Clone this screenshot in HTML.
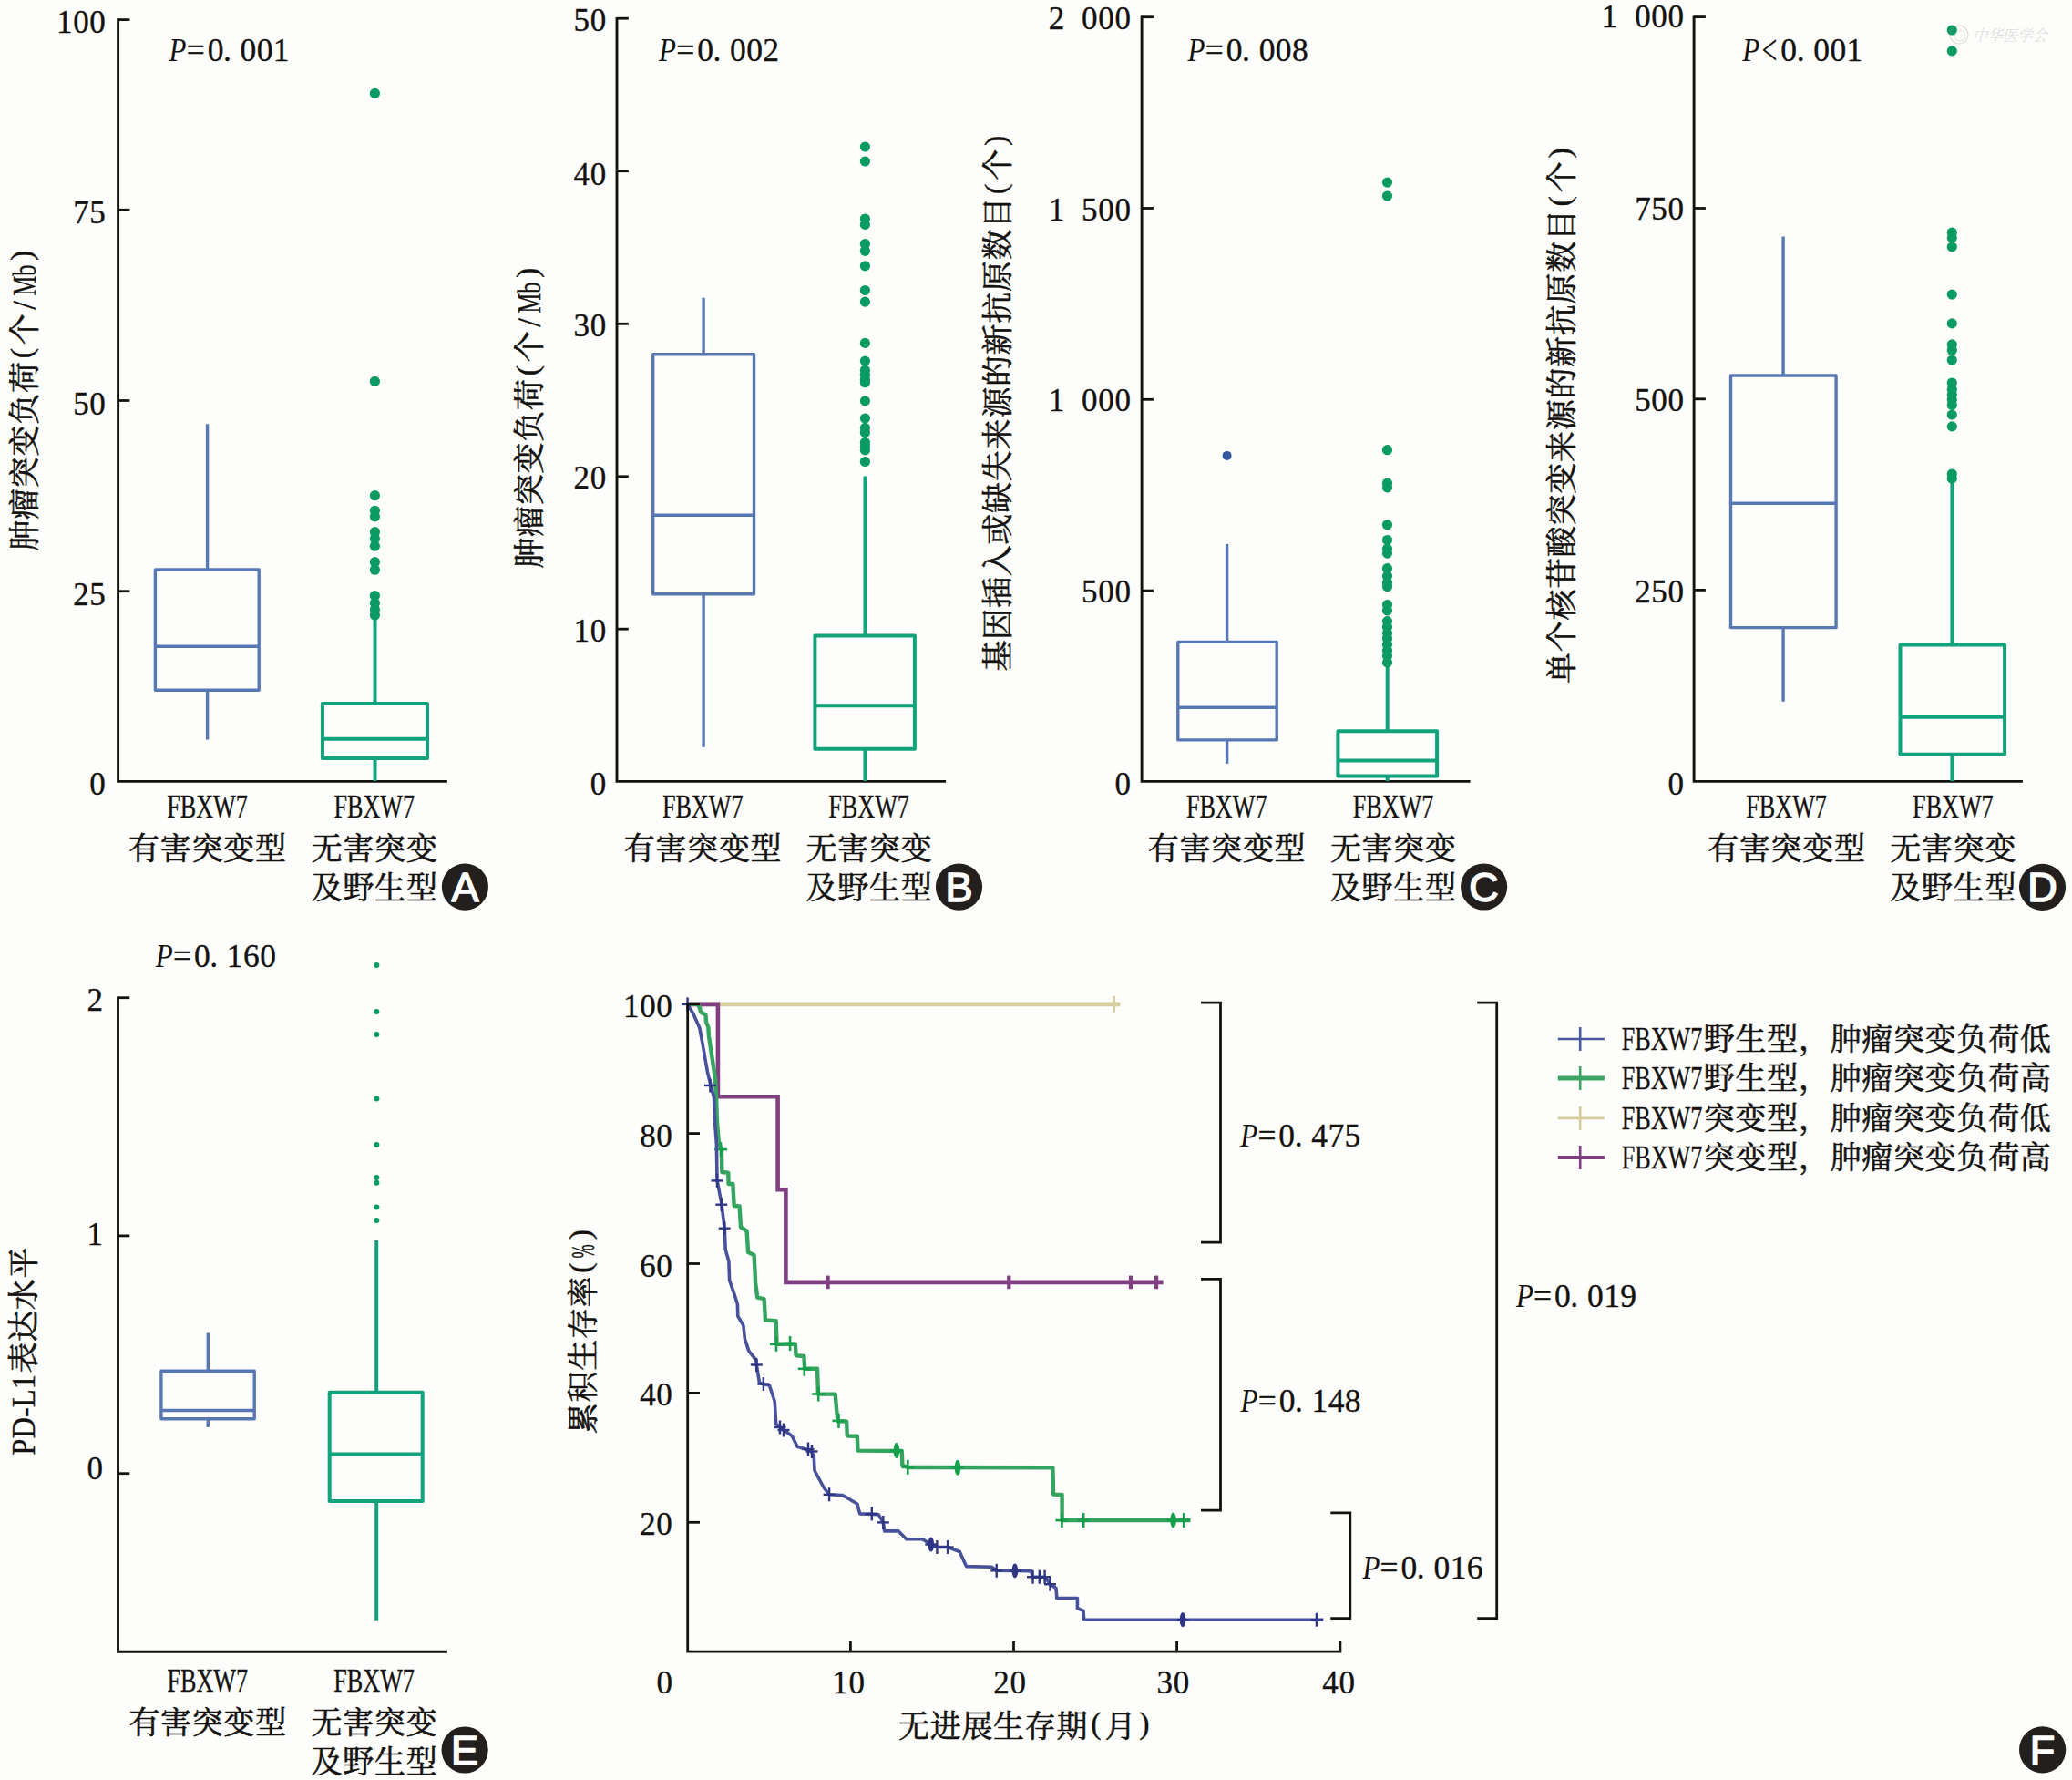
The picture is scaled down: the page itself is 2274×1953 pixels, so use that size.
<!DOCTYPE html>
<html lang="zh"><head><meta charset="utf-8"><title>FBXW7</title>
<style>html,body{margin:0;padding:0;background:#fdfdfb}svg{display:block}text{white-space:pre}</style></head><body>
<svg width="2274" height="1953" viewBox="0 0 2274 1953">
<rect width="2274" height="1953" fill="#fdfdfb"/>
<path d="M129.6,20.2 V857.4 H490.8" fill="none" stroke="#141210" stroke-width="2.9" stroke-linejoin="miter"/>
<line x1="129.6" y1="21.6" x2="142.4" y2="21.6" stroke="#141210" stroke-width="2.8"/>
<line x1="129.6" y1="230.3" x2="142.4" y2="230.3" stroke="#141210" stroke-width="2.8"/>
<line x1="129.6" y1="439.5" x2="142.4" y2="439.5" stroke="#141210" stroke-width="2.8"/>
<line x1="129.6" y1="648.7" x2="142.4" y2="648.7" stroke="#141210" stroke-width="2.8"/>
<text fill="#141210"><tspan x="70.7 88.9 107.1" y="36" font-family='"Liberation Serif","Noto Serif CJK SC",serif' font-size="35" stroke="#141210" stroke-width="0.35" text-anchor="middle">100</tspan></text>
<text fill="#141210"><tspan x="88.9 107.1" y="245.3" font-family='"Liberation Serif","Noto Serif CJK SC",serif' font-size="35" stroke="#141210" stroke-width="0.35" text-anchor="middle">75</tspan></text>
<text fill="#141210"><tspan x="88.9 107.1" y="454.9" font-family='"Liberation Serif","Noto Serif CJK SC",serif' font-size="35" stroke="#141210" stroke-width="0.35" text-anchor="middle">50</tspan></text>
<text fill="#141210"><tspan x="88.9 107.1" y="664" font-family='"Liberation Serif","Noto Serif CJK SC",serif' font-size="35" stroke="#141210" stroke-width="0.35" text-anchor="middle">25</tspan></text>
<text fill="#141210"><tspan x="107.1" y="872.4" font-family='"Liberation Serif","Noto Serif CJK SC",serif' font-size="35" stroke="#141210" stroke-width="0.35" text-anchor="middle">0</tspan></text>
<text font-family='"Liberation Serif","Noto Serif CJK SC",serif' fill="#141210"><tspan x="185.5" y="66.7" font-size="36" font-style="italic" textLength="19" lengthAdjust="spacingAndGlyphs">P</tspan><tspan x="214.7 236.5 249.4 272.4 290.6 308.7" y="66.7" font-size="35.5" text-anchor="middle" stroke="#141210" stroke-width="0.35">=0.001</tspan></text>
<g transform="translate(38.5,438) rotate(-90)">
<text fill="#141210"><tspan x="-149.6 -114.9 -80.2 -45.5 -10.8 23.9" y="0" font-family='"Liberation Serif","Noto Serif CJK SC",serif' font-size="34" text-anchor="middle" font-weight="400" stroke="#141210" stroke-width="0.6" stroke-linejoin="round">肿瘤突变负荷</tspan><tspan x="50.4" y="-3.2" font-family='"Liberation Serif","Noto Serif CJK SC",serif' font-size="34" text-anchor="middle" stroke="#141210" stroke-width="0.35">(</tspan><tspan x="76.8" y="0" font-family='"Liberation Serif","Noto Serif CJK SC",serif' font-size="34" text-anchor="middle" font-weight="400" stroke="#141210" stroke-width="0.6" stroke-linejoin="round">个</tspan><tspan x="103.2" y="0" font-family='"Liberation Serif","Noto Serif CJK SC",serif' font-size="35" stroke="#141210" stroke-width="0.35" text-anchor="middle">/</tspan><tspan x="113.6" y="0" font-family='"Liberation Serif","Noto Serif CJK SC",serif' font-size="35" stroke="#141210" stroke-width="0.35" text-anchor="start" textLength="34" lengthAdjust="spacingAndGlyphs">Mb</tspan><tspan x="157.8" y="-3.2" font-family='"Liberation Serif","Noto Serif CJK SC",serif' font-size="34" text-anchor="middle" stroke="#141210" stroke-width="0.35">)</tspan></text>
</g>
<rect x="170.4" y="625" width="113.8" height="132.3" fill="none" stroke="#5878b4" stroke-width="3.4" stroke-linejoin="round"/>
<line x1="170.4" y1="709.3" x2="284.2" y2="709.3" stroke="#5878b4" stroke-width="3.4"/>
<line x1="227.6" y1="465.2" x2="227.6" y2="625" stroke="#5878b4" stroke-width="3.4"/>
<line x1="227.6" y1="757.3" x2="227.6" y2="811.6" stroke="#5878b4" stroke-width="3.4"/>
<rect x="353.9" y="772.1" width="115.1" height="59.8" fill="none" stroke="#12a27c" stroke-width="4" stroke-linejoin="round"/>
<line x1="353.9" y1="810.7" x2="469" y2="810.7" stroke="#12a27c" stroke-width="4"/>
<line x1="411.5" y1="678" x2="411.5" y2="772.1" stroke="#12a27c" stroke-width="4"/>
<line x1="411.5" y1="831.9" x2="411.5" y2="857" stroke="#12a27c" stroke-width="4"/>
<circle cx="411.4" cy="102.4" r="5.6" fill="#0a9b62"/>
<circle cx="411.4" cy="418.4" r="5.6" fill="#0a9b62"/>
<circle cx="411.4" cy="543.7" r="5.6" fill="#0a9b62"/>
<circle cx="411.4" cy="560.3" r="5.6" fill="#0a9b62"/>
<circle cx="411.4" cy="566.8" r="5.6" fill="#0a9b62"/>
<circle cx="411.4" cy="583.7" r="5.6" fill="#0a9b62"/>
<circle cx="411.4" cy="591" r="5.6" fill="#0a9b62"/>
<circle cx="411.4" cy="599.2" r="5.6" fill="#0a9b62"/>
<circle cx="411.4" cy="616.7" r="5.6" fill="#0a9b62"/>
<circle cx="411.4" cy="625.2" r="5.6" fill="#0a9b62"/>
<circle cx="411.4" cy="653.5" r="5.6" fill="#0a9b62"/>
<circle cx="411.4" cy="661.7" r="5.6" fill="#0a9b62"/>
<circle cx="411.4" cy="669" r="5.6" fill="#0a9b62"/>
<circle cx="411.4" cy="675" r="5.6" fill="#0a9b62"/>
<text fill="#141210"><tspan x="183.2" y="897.2" font-family='"Liberation Serif","Noto Serif CJK SC",serif' font-size="35" stroke="#141210" stroke-width="0.35" text-anchor="start" textLength="88.6" lengthAdjust="spacingAndGlyphs">FBXW7</tspan></text>
<text fill="#141210"><tspan x="158.1 192.8 227.5 262.2 296.9" y="943" font-family='"Liberation Serif","Noto Serif CJK SC",serif' font-size="34" text-anchor="middle" font-weight="400" stroke="#141210" stroke-width="0.6" stroke-linejoin="round">有害突变型</tspan></text>
<text fill="#141210"><tspan x="366.5" y="897.2" font-family='"Liberation Serif","Noto Serif CJK SC",serif' font-size="35" stroke="#141210" stroke-width="0.35" text-anchor="start" textLength="88.6" lengthAdjust="spacingAndGlyphs">FBXW7</tspan></text>
<text fill="#141210"><tspan x="358.8 393.4 428.1 462.9" y="943" font-family='"Liberation Serif","Noto Serif CJK SC",serif' font-size="34" text-anchor="middle" font-weight="400" stroke="#141210" stroke-width="0.6" stroke-linejoin="round">无害突变</tspan></text>
<text fill="#141210"><tspan x="358.8 393.4 428.1 462.9" y="986" font-family='"Liberation Serif","Noto Serif CJK SC",serif' font-size="34" text-anchor="middle" font-weight="400" stroke="#141210" stroke-width="0.6" stroke-linejoin="round">及野生型</tspan></text>
<circle cx="510.4" cy="973.1" r="25.6" fill="#231f1e"/>
<text x="510.4" y="989.1" font-family='"Liberation Sans",sans-serif' font-size="45" text-anchor="middle" fill="#fff" stroke="#fff" stroke-width="1.6" stroke-linejoin="round">A</text>
<path d="M677,19 V857.4 H1038.1" fill="none" stroke="#141210" stroke-width="2.9" stroke-linejoin="miter"/>
<line x1="677" y1="20.2" x2="689.8" y2="20.2" stroke="#141210" stroke-width="2.8"/>
<line x1="677" y1="187.7" x2="689.8" y2="187.7" stroke="#141210" stroke-width="2.8"/>
<line x1="677" y1="355.3" x2="689.8" y2="355.3" stroke="#141210" stroke-width="2.8"/>
<line x1="677" y1="522.8" x2="689.8" y2="522.8" stroke="#141210" stroke-width="2.8"/>
<line x1="677" y1="690.2" x2="689.8" y2="690.2" stroke="#141210" stroke-width="2.8"/>
<text fill="#141210"><tspan x="638.3 656.5" y="33.7" font-family='"Liberation Serif","Noto Serif CJK SC",serif' font-size="35" stroke="#141210" stroke-width="0.35" text-anchor="middle">50</tspan></text>
<text fill="#141210"><tspan x="638.3 656.5" y="202.5" font-family='"Liberation Serif","Noto Serif CJK SC",serif' font-size="35" stroke="#141210" stroke-width="0.35" text-anchor="middle">40</tspan></text>
<text fill="#141210"><tspan x="638.3 656.5" y="369.1" font-family='"Liberation Serif","Noto Serif CJK SC",serif' font-size="35" stroke="#141210" stroke-width="0.35" text-anchor="middle">30</tspan></text>
<text fill="#141210"><tspan x="638.3 656.5" y="536.4" font-family='"Liberation Serif","Noto Serif CJK SC",serif' font-size="35" stroke="#141210" stroke-width="0.35" text-anchor="middle">20</tspan></text>
<text fill="#141210"><tspan x="638.3 656.5" y="704.4" font-family='"Liberation Serif","Noto Serif CJK SC",serif' font-size="35" stroke="#141210" stroke-width="0.35" text-anchor="middle">10</tspan></text>
<text fill="#141210"><tspan x="656.5" y="872.4" font-family='"Liberation Serif","Noto Serif CJK SC",serif' font-size="35" stroke="#141210" stroke-width="0.35" text-anchor="middle">0</tspan></text>
<text font-family='"Liberation Serif","Noto Serif CJK SC",serif' fill="#141210"><tspan x="723" y="66.7" font-size="36" font-style="italic" textLength="19" lengthAdjust="spacingAndGlyphs">P</tspan><tspan x="752.2 774 786.9 809.9 828.1 846.2" y="66.7" font-size="35.5" text-anchor="middle" stroke="#141210" stroke-width="0.35">=0.002</tspan></text>
<g transform="translate(593,457) rotate(-90)">
<text fill="#141210"><tspan x="-149.6 -114.9 -80.2 -45.5 -10.8 23.9" y="0" font-family='"Liberation Serif","Noto Serif CJK SC",serif' font-size="34" text-anchor="middle" font-weight="400" stroke="#141210" stroke-width="0.6" stroke-linejoin="round">肿瘤突变负荷</tspan><tspan x="50.4" y="-3.2" font-family='"Liberation Serif","Noto Serif CJK SC",serif' font-size="34" text-anchor="middle" stroke="#141210" stroke-width="0.35">(</tspan><tspan x="76.8" y="0" font-family='"Liberation Serif","Noto Serif CJK SC",serif' font-size="34" text-anchor="middle" font-weight="400" stroke="#141210" stroke-width="0.6" stroke-linejoin="round">个</tspan><tspan x="103.2" y="0" font-family='"Liberation Serif","Noto Serif CJK SC",serif' font-size="35" stroke="#141210" stroke-width="0.35" text-anchor="middle">/</tspan><tspan x="113.6" y="0" font-family='"Liberation Serif","Noto Serif CJK SC",serif' font-size="35" stroke="#141210" stroke-width="0.35" text-anchor="start" textLength="34" lengthAdjust="spacingAndGlyphs">Mb</tspan><tspan x="157.8" y="-3.2" font-family='"Liberation Serif","Noto Serif CJK SC",serif' font-size="34" text-anchor="middle" stroke="#141210" stroke-width="0.35">)</tspan></text>
</g>
<rect x="716.7" y="388.7" width="110.8" height="263.1" fill="none" stroke="#5878b4" stroke-width="3.4" stroke-linejoin="round"/>
<line x1="716.7" y1="565.3" x2="827.5" y2="565.3" stroke="#5878b4" stroke-width="3.4"/>
<line x1="772.1" y1="326.7" x2="772.1" y2="388.7" stroke="#5878b4" stroke-width="3.4"/>
<line x1="772.1" y1="651.8" x2="772.1" y2="819.8" stroke="#5878b4" stroke-width="3.4"/>
<rect x="894.4" y="697.4" width="109.5" height="124.4" fill="none" stroke="#12a27c" stroke-width="4" stroke-linejoin="round"/>
<line x1="894.4" y1="774.2" x2="1003.9" y2="774.2" stroke="#12a27c" stroke-width="4"/>
<line x1="949.5" y1="522.4" x2="949.5" y2="697.4" stroke="#12a27c" stroke-width="4"/>
<line x1="949.5" y1="821.8" x2="949.5" y2="857" stroke="#12a27c" stroke-width="4"/>
<circle cx="949.4" cy="161" r="5.6" fill="#0a9b62"/>
<circle cx="949.4" cy="177" r="5.6" fill="#0a9b62"/>
<circle cx="949.4" cy="240" r="5.6" fill="#0a9b62"/>
<circle cx="949.4" cy="246.4" r="5.6" fill="#0a9b62"/>
<circle cx="949.4" cy="267.5" r="5.6" fill="#0a9b62"/>
<circle cx="949.4" cy="275.3" r="5.6" fill="#0a9b62"/>
<circle cx="949.4" cy="291.8" r="5.6" fill="#0a9b62"/>
<circle cx="949.4" cy="318.5" r="5.6" fill="#0a9b62"/>
<circle cx="949.4" cy="331.1" r="5.6" fill="#0a9b62"/>
<circle cx="949.4" cy="376.4" r="5.6" fill="#0a9b62"/>
<circle cx="949.4" cy="396.1" r="5.6" fill="#0a9b62"/>
<circle cx="949.4" cy="406.2" r="5.6" fill="#0a9b62"/>
<circle cx="949.4" cy="411.3" r="5.6" fill="#0a9b62"/>
<circle cx="949.4" cy="416.3" r="5.6" fill="#0a9b62"/>
<circle cx="949.4" cy="419.7" r="5.6" fill="#0a9b62"/>
<circle cx="949.4" cy="439.9" r="5.6" fill="#0a9b62"/>
<circle cx="949.4" cy="459" r="5.6" fill="#0a9b62"/>
<circle cx="949.4" cy="469.4" r="5.6" fill="#0a9b62"/>
<circle cx="949.4" cy="474.5" r="5.6" fill="#0a9b62"/>
<circle cx="949.4" cy="485.4" r="5.6" fill="#0a9b62"/>
<circle cx="949.4" cy="489.6" r="5.6" fill="#0a9b62"/>
<circle cx="949.4" cy="493.9" r="5.6" fill="#0a9b62"/>
<circle cx="949.4" cy="506.5" r="5.6" fill="#0a9b62"/>
<text fill="#141210"><tspan x="726.9" y="897.2" font-family='"Liberation Serif","Noto Serif CJK SC",serif' font-size="35" stroke="#141210" stroke-width="0.35" text-anchor="start" textLength="88.6" lengthAdjust="spacingAndGlyphs">FBXW7</tspan></text>
<text fill="#141210"><tspan x="701.8 736.5 771.2 805.9 840.6" y="943" font-family='"Liberation Serif","Noto Serif CJK SC",serif' font-size="34" text-anchor="middle" font-weight="400" stroke="#141210" stroke-width="0.6" stroke-linejoin="round">有害突变型</tspan></text>
<text fill="#141210"><tspan x="909.3" y="897.2" font-family='"Liberation Serif","Noto Serif CJK SC",serif' font-size="35" stroke="#141210" stroke-width="0.35" text-anchor="start" textLength="88.6" lengthAdjust="spacingAndGlyphs">FBXW7</tspan></text>
<text fill="#141210"><tspan x="901.6 936.2 971 1005.7" y="943" font-family='"Liberation Serif","Noto Serif CJK SC",serif' font-size="34" text-anchor="middle" font-weight="400" stroke="#141210" stroke-width="0.6" stroke-linejoin="round">无害突变</tspan></text>
<text fill="#141210"><tspan x="901.6 936.2 971 1005.7" y="986" font-family='"Liberation Serif","Noto Serif CJK SC",serif' font-size="34" text-anchor="middle" font-weight="400" stroke="#141210" stroke-width="0.6" stroke-linejoin="round">及野生型</tspan></text>
<circle cx="1052.5" cy="973.1" r="25.6" fill="#231f1e"/>
<text x="1052.5" y="989.1" font-family='"Liberation Sans",sans-serif' font-size="45" text-anchor="middle" fill="#fff" stroke="#fff" stroke-width="1.6" stroke-linejoin="round">B</text>
<path d="M1253.1,17.5 V857.4 H1613.6" fill="none" stroke="#141210" stroke-width="2.9" stroke-linejoin="miter"/>
<line x1="1253.1" y1="18.7" x2="1265.9" y2="18.7" stroke="#141210" stroke-width="2.8"/>
<line x1="1253.1" y1="228.5" x2="1265.9" y2="228.5" stroke="#141210" stroke-width="2.8"/>
<line x1="1253.1" y1="438.3" x2="1265.9" y2="438.3" stroke="#141210" stroke-width="2.8"/>
<line x1="1253.1" y1="648.1" x2="1265.9" y2="648.1" stroke="#141210" stroke-width="2.8"/>
<text fill="#141210"><tspan x="1159.4 1177.6 1195.8 1214 1232.2" y="31.9" font-family='"Liberation Serif","Noto Serif CJK SC",serif' font-size="35" stroke="#141210" stroke-width="0.35" text-anchor="middle">2 000</tspan></text>
<text fill="#141210"><tspan x="1159.4 1177.6 1195.8 1214 1232.2" y="241.5" font-family='"Liberation Serif","Noto Serif CJK SC",serif' font-size="35" stroke="#141210" stroke-width="0.35" text-anchor="middle">1 500</tspan></text>
<text fill="#141210"><tspan x="1159.4 1177.6 1195.8 1214 1232.2" y="450.9" font-family='"Liberation Serif","Noto Serif CJK SC",serif' font-size="35" stroke="#141210" stroke-width="0.35" text-anchor="middle">1 000</tspan></text>
<text fill="#141210"><tspan x="1195.8 1214 1232.2" y="660.7" font-family='"Liberation Serif","Noto Serif CJK SC",serif' font-size="35" stroke="#141210" stroke-width="0.35" text-anchor="middle">500</tspan></text>
<text fill="#141210"><tspan x="1232.2" y="872.4" font-family='"Liberation Serif","Noto Serif CJK SC",serif' font-size="35" stroke="#141210" stroke-width="0.35" text-anchor="middle">0</tspan></text>
<text font-family='"Liberation Serif","Noto Serif CJK SC",serif' fill="#141210"><tspan x="1303.6" y="66.7" font-size="36" font-style="italic" textLength="19" lengthAdjust="spacingAndGlyphs">P</tspan><tspan x="1332.8 1354.6 1367.5 1390.5 1408.7 1426.8" y="66.7" font-size="35.5" text-anchor="middle" stroke="#141210" stroke-width="0.35">=0.008</tspan></text>
<g transform="translate(1107,441) rotate(-90)">
<text fill="#141210"><tspan x="-278.4 -243.8 -209.1 -174.3 -139.7 -104.9 -70.2 -35.6 -0.8 33.9 68.6 103.2 138 172.7 207.4" y="0" font-family='"Liberation Serif","Noto Serif CJK SC",serif' font-size="34" text-anchor="middle" font-weight="400" stroke="#141210" stroke-width="0.6" stroke-linejoin="round">基因插入或缺失来源的新抗原数目</tspan><tspan x="233.8" y="-3.2" font-family='"Liberation Serif","Noto Serif CJK SC",serif' font-size="34" text-anchor="middle" stroke="#141210" stroke-width="0.35">(</tspan><tspan x="260.2" y="0" font-family='"Liberation Serif","Noto Serif CJK SC",serif' font-size="34" text-anchor="middle" font-weight="400" stroke="#141210" stroke-width="0.6" stroke-linejoin="round">个</tspan><tspan x="286.7" y="-3.2" font-family='"Liberation Serif","Noto Serif CJK SC",serif' font-size="34" text-anchor="middle" stroke="#141210" stroke-width="0.35">)</tspan></text>
</g>
<rect x="1292.8" y="704.4" width="108.4" height="107.5" fill="none" stroke="#5878b4" stroke-width="3.4" stroke-linejoin="round"/>
<line x1="1292.8" y1="776.2" x2="1401.2" y2="776.2" stroke="#5878b4" stroke-width="3.4"/>
<line x1="1346.6" y1="596.9" x2="1346.6" y2="704.4" stroke="#5878b4" stroke-width="3.4"/>
<line x1="1346.6" y1="811.9" x2="1346.6" y2="837.9" stroke="#5878b4" stroke-width="3.4"/>
<circle cx="1346.6" cy="499.9" r="5" fill="#34589f"/>
<rect x="1468.4" y="802.2" width="108.7" height="49.4" fill="none" stroke="#12a27c" stroke-width="4" stroke-linejoin="round"/>
<line x1="1468.4" y1="834.4" x2="1577.1" y2="834.4" stroke="#12a27c" stroke-width="4"/>
<line x1="1522.7" y1="729.8" x2="1522.7" y2="802.2" stroke="#12a27c" stroke-width="4"/>
<line x1="1522.7" y1="851.6" x2="1522.7" y2="857" stroke="#12a27c" stroke-width="4"/>
<circle cx="1522.5" cy="200.1" r="5.6" fill="#0a9b62"/>
<circle cx="1522.5" cy="215" r="5.6" fill="#0a9b62"/>
<circle cx="1522.5" cy="493.7" r="5.6" fill="#0a9b62"/>
<circle cx="1522.5" cy="530.2" r="5.6" fill="#0a9b62"/>
<circle cx="1522.5" cy="534.9" r="5.6" fill="#0a9b62"/>
<circle cx="1522.5" cy="575.8" r="5.6" fill="#0a9b62"/>
<circle cx="1522.5" cy="592.5" r="5.6" fill="#0a9b62"/>
<circle cx="1522.5" cy="602.1" r="5.6" fill="#0a9b62"/>
<circle cx="1522.5" cy="607.1" r="5.6" fill="#0a9b62"/>
<circle cx="1522.5" cy="623.7" r="5.6" fill="#0a9b62"/>
<circle cx="1522.5" cy="631.9" r="5.6" fill="#0a9b62"/>
<circle cx="1522.5" cy="639.2" r="5.6" fill="#0a9b62"/>
<circle cx="1522.5" cy="643.6" r="5.6" fill="#0a9b62"/>
<circle cx="1522.5" cy="663.5" r="5.6" fill="#0a9b62"/>
<circle cx="1522.5" cy="669.9" r="5.6" fill="#0a9b62"/>
<circle cx="1522.5" cy="681.6" r="5.6" fill="#0a9b62"/>
<circle cx="1522.5" cy="688" r="5.6" fill="#0a9b62"/>
<circle cx="1522.5" cy="694.7" r="5.6" fill="#0a9b62"/>
<circle cx="1522.5" cy="700.6" r="5.6" fill="#0a9b62"/>
<circle cx="1522.5" cy="707.3" r="5.6" fill="#0a9b62"/>
<circle cx="1522.5" cy="713.7" r="5.6" fill="#0a9b62"/>
<circle cx="1522.5" cy="719.6" r="5.6" fill="#0a9b62"/>
<circle cx="1522.5" cy="726.9" r="5.6" fill="#0a9b62"/>
<text fill="#141210"><tspan x="1301.9" y="897.2" font-family='"Liberation Serif","Noto Serif CJK SC",serif' font-size="35" stroke="#141210" stroke-width="0.35" text-anchor="start" textLength="88.6" lengthAdjust="spacingAndGlyphs">FBXW7</tspan></text>
<text fill="#141210"><tspan x="1276.8 1311.5 1346.2 1380.9 1415.6" y="943" font-family='"Liberation Serif","Noto Serif CJK SC",serif' font-size="34" text-anchor="middle" font-weight="400" stroke="#141210" stroke-width="0.6" stroke-linejoin="round">有害突变型</tspan></text>
<text fill="#141210"><tspan x="1484.7" y="897.2" font-family='"Liberation Serif","Noto Serif CJK SC",serif' font-size="35" stroke="#141210" stroke-width="0.35" text-anchor="start" textLength="88.6" lengthAdjust="spacingAndGlyphs">FBXW7</tspan></text>
<text fill="#141210"><tspan x="1476.9 1511.6 1546.3 1581" y="943" font-family='"Liberation Serif","Noto Serif CJK SC",serif' font-size="34" text-anchor="middle" font-weight="400" stroke="#141210" stroke-width="0.6" stroke-linejoin="round">无害突变</tspan></text>
<text fill="#141210"><tspan x="1476.9 1511.6 1546.3 1581" y="986" font-family='"Liberation Serif","Noto Serif CJK SC",serif' font-size="34" text-anchor="middle" font-weight="400" stroke="#141210" stroke-width="0.6" stroke-linejoin="round">及野生型</tspan></text>
<circle cx="1628.6" cy="973" r="25.6" fill="#231f1e"/>
<text x="1628.6" y="989" font-family='"Liberation Sans",sans-serif' font-size="45" text-anchor="middle" fill="#fff" stroke="#fff" stroke-width="1.6" stroke-linejoin="round">C</text>
<path d="M1859.1,17.4 V857.4 H2219.9" fill="none" stroke="#141210" stroke-width="2.9" stroke-linejoin="miter"/>
<line x1="1859.1" y1="18.6" x2="1871.9" y2="18.6" stroke="#141210" stroke-width="2.8"/>
<line x1="1859.1" y1="228.5" x2="1871.9" y2="228.5" stroke="#141210" stroke-width="2.8"/>
<line x1="1859.1" y1="437.8" x2="1871.9" y2="437.8" stroke="#141210" stroke-width="2.8"/>
<line x1="1859.1" y1="647.4" x2="1871.9" y2="647.4" stroke="#141210" stroke-width="2.8"/>
<text fill="#141210"><tspan x="1766.5 1784.7 1802.9 1821.1 1839.3" y="30" font-family='"Liberation Serif","Noto Serif CJK SC",serif' font-size="35" stroke="#141210" stroke-width="0.35" text-anchor="middle">1 000</tspan></text>
<text fill="#141210"><tspan x="1802.9 1821.1 1839.3" y="240.7" font-family='"Liberation Serif","Noto Serif CJK SC",serif' font-size="35" stroke="#141210" stroke-width="0.35" text-anchor="middle">750</tspan></text>
<text fill="#141210"><tspan x="1802.9 1821.1 1839.3" y="450.6" font-family='"Liberation Serif","Noto Serif CJK SC",serif' font-size="35" stroke="#141210" stroke-width="0.35" text-anchor="middle">500</tspan></text>
<text fill="#141210"><tspan x="1802.9 1821.1 1839.3" y="660.6" font-family='"Liberation Serif","Noto Serif CJK SC",serif' font-size="35" stroke="#141210" stroke-width="0.35" text-anchor="middle">250</tspan></text>
<text fill="#141210"><tspan x="1839.3" y="872.4" font-family='"Liberation Serif","Noto Serif CJK SC",serif' font-size="35" stroke="#141210" stroke-width="0.35" text-anchor="middle">0</tspan></text>
<text font-family='"Liberation Serif","Noto Serif CJK SC",serif' fill="#141210"><tspan x="1912.2" y="67.2" font-size="36" font-style="italic" textLength="19" lengthAdjust="spacingAndGlyphs">P</tspan><tspan x="1933.4" y="70.6" font-size="49" textLength="17" lengthAdjust="spacingAndGlyphs">&lt;</tspan><tspan x="1963.2 1976.1 1999.1 2017.3 2035.4" y="67.2" font-size="35.5" text-anchor="middle" stroke="#141210" stroke-width="0.35">0.001</tspan></text>
<g transform="translate(1726,454.5) rotate(-90)">
<text fill="#141210"><tspan x="-278.4 -243.8 -209.1 -174.3 -139.7 -104.9 -70.2 -35.6 -0.8 33.9 68.6 103.2 138 172.7 207.4" y="0" font-family='"Liberation Serif","Noto Serif CJK SC",serif' font-size="34" text-anchor="middle" font-weight="400" stroke="#141210" stroke-width="0.6" stroke-linejoin="round">单个核苷酸突变来源的新抗原数目</tspan><tspan x="233.8" y="-3.2" font-family='"Liberation Serif","Noto Serif CJK SC",serif' font-size="34" text-anchor="middle" stroke="#141210" stroke-width="0.35">(</tspan><tspan x="260.2" y="0" font-family='"Liberation Serif","Noto Serif CJK SC",serif' font-size="34" text-anchor="middle" font-weight="400" stroke="#141210" stroke-width="0.6" stroke-linejoin="round">个</tspan><tspan x="286.7" y="-3.2" font-family='"Liberation Serif","Noto Serif CJK SC",serif' font-size="34" text-anchor="middle" stroke="#141210" stroke-width="0.35">)</tspan></text>
</g>
<rect x="1899.5" y="412" width="115.6" height="276.6" fill="none" stroke="#5878b4" stroke-width="3.4" stroke-linejoin="round"/>
<line x1="1899.5" y1="552.2" x2="2015.1" y2="552.2" stroke="#5878b4" stroke-width="3.4"/>
<line x1="1957.1" y1="259.5" x2="1957.1" y2="412" stroke="#5878b4" stroke-width="3.4"/>
<line x1="1957.1" y1="688.6" x2="1957.1" y2="769.8" stroke="#5878b4" stroke-width="3.4"/>
<rect x="2085.5" y="707.6" width="114.6" height="120.1" fill="none" stroke="#12a27c" stroke-width="4" stroke-linejoin="round"/>
<line x1="2085.5" y1="786.8" x2="2200.1" y2="786.8" stroke="#12a27c" stroke-width="4"/>
<line x1="2142.4" y1="522" x2="2142.4" y2="707.6" stroke="#12a27c" stroke-width="4"/>
<line x1="2142.4" y1="827.7" x2="2142.4" y2="857" stroke="#12a27c" stroke-width="4"/>
<circle cx="2142.3" cy="33" r="5.6" fill="#0a9b62"/>
<circle cx="2142.3" cy="55.9" r="5.6" fill="#0a9b62"/>
<circle cx="2142.3" cy="255.2" r="5.6" fill="#0a9b62"/>
<circle cx="2142.3" cy="260.9" r="5.6" fill="#0a9b62"/>
<circle cx="2142.3" cy="270.9" r="5.6" fill="#0a9b62"/>
<circle cx="2142.3" cy="323.1" r="5.6" fill="#0a9b62"/>
<circle cx="2142.3" cy="354.9" r="5.6" fill="#0a9b62"/>
<circle cx="2142.3" cy="377.9" r="5.6" fill="#0a9b62"/>
<circle cx="2142.3" cy="384.2" r="5.6" fill="#0a9b62"/>
<circle cx="2142.3" cy="395.1" r="5.6" fill="#0a9b62"/>
<circle cx="2142.3" cy="420" r="5.6" fill="#0a9b62"/>
<circle cx="2142.3" cy="427.2" r="5.6" fill="#0a9b62"/>
<circle cx="2142.3" cy="432.9" r="5.6" fill="#0a9b62"/>
<circle cx="2142.3" cy="438.6" r="5.6" fill="#0a9b62"/>
<circle cx="2142.3" cy="444.4" r="5.6" fill="#0a9b62"/>
<circle cx="2142.3" cy="455" r="5.6" fill="#0a9b62"/>
<circle cx="2142.3" cy="467.9" r="5.6" fill="#0a9b62"/>
<circle cx="2142.3" cy="520" r="5.6" fill="#0a9b62"/>
<circle cx="2142.3" cy="525" r="5.6" fill="#0a9b62"/>
<text fill="#141210"><tspan x="1916.3" y="897.2" font-family='"Liberation Serif","Noto Serif CJK SC",serif' font-size="35" stroke="#141210" stroke-width="0.35" text-anchor="start" textLength="88.6" lengthAdjust="spacingAndGlyphs">FBXW7</tspan></text>
<text fill="#141210"><tspan x="1891.2 1925.9 1960.6 1995.3 2030" y="943" font-family='"Liberation Serif","Noto Serif CJK SC",serif' font-size="34" text-anchor="middle" font-weight="400" stroke="#141210" stroke-width="0.6" stroke-linejoin="round">有害突变型</tspan></text>
<text fill="#141210"><tspan x="2099.1" y="897.2" font-family='"Liberation Serif","Noto Serif CJK SC",serif' font-size="35" stroke="#141210" stroke-width="0.35" text-anchor="start" textLength="88.6" lengthAdjust="spacingAndGlyphs">FBXW7</tspan></text>
<text fill="#141210"><tspan x="2091.3 2126.1 2160.8 2195.4" y="943" font-family='"Liberation Serif","Noto Serif CJK SC",serif' font-size="34" text-anchor="middle" font-weight="400" stroke="#141210" stroke-width="0.6" stroke-linejoin="round">无害突变</tspan></text>
<text fill="#141210"><tspan x="2091.3 2126.1 2160.8 2195.4" y="986" font-family='"Liberation Serif","Noto Serif CJK SC",serif' font-size="34" text-anchor="middle" font-weight="400" stroke="#141210" stroke-width="0.6" stroke-linejoin="round">及野生型</tspan></text>
<circle cx="2241.5" cy="973.3" r="25.6" fill="#231f1e"/>
<text x="2241.5" y="989.3" font-family='"Liberation Sans",sans-serif' font-size="45" text-anchor="middle" fill="#fff" stroke="#fff" stroke-width="1.6" stroke-linejoin="round">D</text>
<g opacity="0.3"><circle cx="2150" cy="38" r="10" fill="none" stroke="#9a9a9a" stroke-width="1.2"/><circle cx="2151" cy="39" r="6" fill="none" stroke="#9a9a9a" stroke-width="1"/><text x="2165" y="45" font-family='"Liberation Serif","Noto Serif CJK SC",serif' font-size="17" font-style="italic" font-weight="300" fill="#8a8a8a" textLength="82" lengthAdjust="spacingAndGlyphs">中华医学会</text></g>
<path d="M129.5,1093.5 V1812.2 H490.9" fill="none" stroke="#141210" stroke-width="2.9" stroke-linejoin="miter"/>
<line x1="129.5" y1="1094.7" x2="142.3" y2="1094.7" stroke="#141210" stroke-width="2.8"/>
<line x1="129.5" y1="1355.9" x2="142.3" y2="1355.9" stroke="#141210" stroke-width="2.8"/>
<line x1="129.5" y1="1616.7" x2="142.3" y2="1616.7" stroke="#141210" stroke-width="2.8"/>
<text fill="#141210"><tspan x="104.3" y="1108.6" font-family='"Liberation Serif","Noto Serif CJK SC",serif' font-size="35" stroke="#141210" stroke-width="0.35" text-anchor="middle">2</tspan></text>
<text fill="#141210"><tspan x="104.3" y="1366.2" font-family='"Liberation Serif","Noto Serif CJK SC",serif' font-size="35" stroke="#141210" stroke-width="0.35" text-anchor="middle">1</tspan></text>
<text fill="#141210"><tspan x="104.3" y="1622.7" font-family='"Liberation Serif","Noto Serif CJK SC",serif' font-size="35" stroke="#141210" stroke-width="0.35" text-anchor="middle">0</tspan></text>
<text font-family='"Liberation Serif","Noto Serif CJK SC",serif' fill="#141210"><tspan x="170.8" y="1060.7" font-size="36" font-style="italic" textLength="19" lengthAdjust="spacingAndGlyphs">P</tspan><tspan x="200 221.8 234.7 257.7 275.9 294" y="1060.7" font-size="35.5" text-anchor="middle" stroke="#141210" stroke-width="0.35">=0.160</tspan></text>
<g transform="translate(38,1483) rotate(-90)">
<text fill="#141210"><tspan x="-113.7" y="0" font-family='"Liberation Serif","Noto Serif CJK SC",serif' font-size="35" stroke="#141210" stroke-width="0.35" text-anchor="start" textLength="88.6" lengthAdjust="spacingAndGlyphs">PD-L1</tspan><tspan x="-6.6 28.1 62.8 97.6" y="0" font-family='"Liberation Serif","Noto Serif CJK SC",serif' font-size="34" text-anchor="middle" font-weight="400" stroke="#141210" stroke-width="0.6" stroke-linejoin="round">表达水平</tspan></text>
</g>
<rect x="176.9" y="1504.3" width="102.3" height="52.5" fill="none" stroke="#5878b4" stroke-width="3.4" stroke-linejoin="round"/>
<line x1="176.9" y1="1547.5" x2="279.2" y2="1547.5" stroke="#5878b4" stroke-width="3.4"/>
<line x1="228.3" y1="1462.4" x2="228.3" y2="1504.3" stroke="#5878b4" stroke-width="3.4"/>
<line x1="228.3" y1="1556.8" x2="228.3" y2="1565.9" stroke="#5878b4" stroke-width="3.4"/>
<rect x="361.7" y="1527.7" width="102" height="119.3" fill="none" stroke="#12a27c" stroke-width="4" stroke-linejoin="round"/>
<line x1="361.7" y1="1595.5" x2="463.7" y2="1595.5" stroke="#12a27c" stroke-width="4"/>
<line x1="413.2" y1="1361" x2="413.2" y2="1527.7" stroke="#12a27c" stroke-width="4"/>
<line x1="413.2" y1="1647" x2="413.2" y2="1777.8" stroke="#12a27c" stroke-width="4"/>
<circle cx="413.4" cy="1059" r="3" fill="#0a9b62"/>
<circle cx="413.4" cy="1110.1" r="3" fill="#0a9b62"/>
<circle cx="413.4" cy="1135.1" r="3" fill="#0a9b62"/>
<circle cx="413.4" cy="1205.6" r="3" fill="#0a9b62"/>
<circle cx="413.4" cy="1255.9" r="3" fill="#0a9b62"/>
<circle cx="413.4" cy="1292.1" r="3" fill="#0a9b62"/>
<circle cx="413.4" cy="1297.8" r="3" fill="#0a9b62"/>
<circle cx="413.4" cy="1324.4" r="3" fill="#0a9b62"/>
<circle cx="413.4" cy="1339" r="3" fill="#0a9b62"/>
<text fill="#141210"><tspan x="183.5" y="1856.1" font-family='"Liberation Serif","Noto Serif CJK SC",serif' font-size="35" stroke="#141210" stroke-width="0.35" text-anchor="start" textLength="88.6" lengthAdjust="spacingAndGlyphs">FBXW7</tspan></text>
<text fill="#141210"><tspan x="158.4 193.1 227.8 262.5 297.2" y="1901.8" font-family='"Liberation Serif","Noto Serif CJK SC",serif' font-size="34" text-anchor="middle" font-weight="400" stroke="#141210" stroke-width="0.6" stroke-linejoin="round">有害突变型</tspan></text>
<text fill="#141210"><tspan x="366.3" y="1856.1" font-family='"Liberation Serif","Noto Serif CJK SC",serif' font-size="35" stroke="#141210" stroke-width="0.35" text-anchor="start" textLength="88.6" lengthAdjust="spacingAndGlyphs">FBXW7</tspan></text>
<text fill="#141210"><tspan x="358.6 393.3 428 462.7" y="1901.8" font-family='"Liberation Serif","Noto Serif CJK SC",serif' font-size="34" text-anchor="middle" font-weight="400" stroke="#141210" stroke-width="0.6" stroke-linejoin="round">无害突变</tspan></text>
<text fill="#141210"><tspan x="358.6 393.3 428 462.7" y="1945" font-family='"Liberation Serif","Noto Serif CJK SC",serif' font-size="34" text-anchor="middle" font-weight="400" stroke="#141210" stroke-width="0.6" stroke-linejoin="round">及野生型</tspan></text>
<circle cx="510.1" cy="1920" r="25.6" fill="#231f1e"/>
<text x="510.1" y="1936" font-family='"Liberation Sans",sans-serif' font-size="45" text-anchor="middle" fill="#fff" stroke="#fff" stroke-width="1.6" stroke-linejoin="round">E</text>
<path d="M755,1101.9 L1229,1101.9" fill="none" stroke="#d6cf9f" stroke-width="4.6" stroke-linejoin="round" stroke-linecap="butt"/>
<line x1="1215.7" y1="1101.9" x2="1229.7" y2="1101.9" stroke="#d6cf9f" stroke-width="2.6"/>
<line x1="1222.7" y1="1092.9" x2="1222.7" y2="1110.9" stroke="#d6cf9f" stroke-width="2.6"/>
<path d="M755,1101.9 L787.9,1101.9 L787.9,1203.2 L853.6,1203.2 L853.6,1305.2 L862.4,1305.2 L862.4,1406.9 L1276.6,1406.9" fill="none" stroke="#7f3f80" stroke-width="4.6" stroke-linejoin="miter"/>
<line x1="908.6" y1="1399.6" x2="908.6" y2="1414.2" stroke="#7f3f80" stroke-width="4.2"/>
<line x1="1107.3" y1="1399.6" x2="1107.3" y2="1414.2" stroke="#7f3f80" stroke-width="4.2"/>
<line x1="1241" y1="1399.6" x2="1241" y2="1414.2" stroke="#7f3f80" stroke-width="4.2"/>
<line x1="1269.1" y1="1399.6" x2="1269.1" y2="1414.2" stroke="#7f3f80" stroke-width="4.2"/>
<path d="M755,1101.9 L766,1101.9 L768,1106 L769,1110.5 L774.5,1113.6 L775,1121.5 L777.3,1127 L778,1137 L785.1,1184.4 L785.9,1201.7 L786.9,1230 L788.9,1255 L791.9,1261 L792.3,1286 L799.2,1286.7 L799.6,1299 L804.3,1299 L805.7,1323 L811.6,1323.5 L813,1346.3 L819.6,1350.7 L821.1,1374 L827.6,1377 L829.1,1407.6 L831.3,1423.7 L838.6,1425.2 L840,1448.5 L851.7,1449.3 L852.5,1474.8 L872.9,1474.8 L873.6,1487.2 L882.4,1488 L883.1,1501.8 L897,1501.8 L898,1529.6 L916.7,1529.6 L918.1,1546.3 L919.5,1559.2 L929.1,1559.6 L929.8,1575.5 L940.8,1575.8 L941.5,1591.6 L989.7,1592 L990.4,1607.6 L996.3,1610 L1155.4,1610.2 L1156.1,1639.6 L1165.6,1640 L1165.6,1668.1 L1306.4,1668.1" fill="none" stroke="#35a45f" stroke-width="4.4" stroke-linejoin="round" stroke-linecap="butt"/>
<line x1="784.1" y1="1261.1" x2="798.1" y2="1261.1" stroke="#16a04c" stroke-width="2.6"/>
<line x1="791.1" y1="1253.1" x2="791.1" y2="1269.1" stroke="#16a04c" stroke-width="2.6"/>
<line x1="845" y1="1474.8" x2="859" y2="1474.8" stroke="#16a04c" stroke-width="2.6"/>
<line x1="852" y1="1466.8" x2="852" y2="1482.8" stroke="#16a04c" stroke-width="2.6"/>
<line x1="860.1" y1="1474" x2="874.1" y2="1474" stroke="#16a04c" stroke-width="2.6"/>
<line x1="867.1" y1="1466" x2="867.1" y2="1482" stroke="#16a04c" stroke-width="2.6"/>
<line x1="875.8" y1="1501.8" x2="889.8" y2="1501.8" stroke="#16a04c" stroke-width="2.6"/>
<line x1="882.8" y1="1493.8" x2="882.8" y2="1509.8" stroke="#16a04c" stroke-width="2.6"/>
<line x1="891.2" y1="1529.5" x2="905.2" y2="1529.5" stroke="#16a04c" stroke-width="2.6"/>
<line x1="898.2" y1="1521.5" x2="898.2" y2="1537.5" stroke="#16a04c" stroke-width="2.6"/>
<line x1="913.5" y1="1558.9" x2="927.5" y2="1558.9" stroke="#16a04c" stroke-width="2.6"/>
<line x1="920.5" y1="1550.9" x2="920.5" y2="1566.9" stroke="#16a04c" stroke-width="2.6"/>
<line x1="976.9" y1="1591.6" x2="990.9" y2="1591.6" stroke="#16a04c" stroke-width="2.6"/>
<line x1="983.9" y1="1583.6" x2="983.9" y2="1599.6" stroke="#16a04c" stroke-width="2.6"/>
<ellipse cx="983.9" cy="1591.6" rx="3.3" ry="8.5" fill="#16a04c"/>
<line x1="989.3" y1="1609.8" x2="1003.3" y2="1609.8" stroke="#16a04c" stroke-width="2.6"/>
<line x1="996.3" y1="1601.8" x2="996.3" y2="1617.8" stroke="#16a04c" stroke-width="2.6"/>
<line x1="1044" y1="1610.2" x2="1058" y2="1610.2" stroke="#16a04c" stroke-width="2.6"/>
<line x1="1051" y1="1602.2" x2="1051" y2="1618.2" stroke="#16a04c" stroke-width="2.6"/>
<ellipse cx="1051" cy="1610.2" rx="3.3" ry="8.5" fill="#16a04c"/>
<line x1="1158.4" y1="1668.1" x2="1172.4" y2="1668.1" stroke="#16a04c" stroke-width="2.6"/>
<line x1="1165.4" y1="1660.1" x2="1165.4" y2="1676.1" stroke="#16a04c" stroke-width="2.6"/>
<line x1="1182.2" y1="1668.1" x2="1196.2" y2="1668.1" stroke="#16a04c" stroke-width="2.6"/>
<line x1="1189.2" y1="1660.1" x2="1189.2" y2="1676.1" stroke="#16a04c" stroke-width="2.6"/>
<line x1="1280.6" y1="1668.1" x2="1294.6" y2="1668.1" stroke="#16a04c" stroke-width="2.6"/>
<line x1="1287.6" y1="1660.1" x2="1287.6" y2="1676.1" stroke="#16a04c" stroke-width="2.6"/>
<ellipse cx="1287.6" cy="1668.1" rx="3.3" ry="8.5" fill="#16a04c"/>
<line x1="1292.2" y1="1668.1" x2="1306.2" y2="1668.1" stroke="#16a04c" stroke-width="2.6"/>
<line x1="1299.2" y1="1660.1" x2="1299.2" y2="1676.1" stroke="#16a04c" stroke-width="2.6"/>
<path d="M754.6,1101.9 L760.7,1112 L767.8,1127.8 L771,1145 L776.5,1176.5 L780.4,1192.3 L783.5,1204 L784.5,1230 L786.4,1255 L787,1295 L791.8,1320 L795.2,1347.7 L796.2,1371.1 L799.9,1384.3 L800.6,1404.7 L805.7,1419.3 L809.4,1431 L809.8,1444.1 L815.9,1454.4 L817.4,1469 L821.8,1482.1 L829.8,1492.3 L830.3,1497.5 L833.5,1517.2 L837.9,1518.6 L844.4,1520 L850.2,1537.5 L851.7,1562.4 L859,1568.2 L869.2,1575.5 L875.1,1587.2 L889.7,1591.6 L893.3,1597.4 L894,1613.5 L904.3,1632.5 L910.1,1639.8 L924.7,1640.5 L940.8,1650 L943.7,1660.9 L964.1,1661.7 L969.3,1670.4 L970.7,1679.9 L986.1,1679.9 L994.8,1688.7 L1012.3,1688.7 L1021.8,1694.5 L1028.4,1697.5 L1040.1,1697.5 L1053.2,1702.5 L1060.5,1718.6 L1088.3,1719.3 L1093.7,1723.3 L1131.5,1723.6 L1133.5,1730.2 L1146.6,1730.2 L1152.5,1738.2 L1159,1742.6 L1159.8,1753.5 L1182.4,1753.5 L1182.4,1764.5 L1189,1767.4 L1189.7,1777.2 L1452.4,1777.2" fill="none" stroke="#47529b" stroke-width="3.6" stroke-linejoin="round" stroke-linecap="butt"/>
<line x1="748.1" y1="1101.9" x2="761.1" y2="1101.9" stroke="#2f3585" stroke-width="2.4"/>
<line x1="754.6" y1="1094.4" x2="754.6" y2="1109.4" stroke="#2f3585" stroke-width="2.4"/>
<line x1="772.9" y1="1191" x2="785.9" y2="1191" stroke="#2f3585" stroke-width="2.4"/>
<line x1="779.4" y1="1183.5" x2="779.4" y2="1198.5" stroke="#2f3585" stroke-width="2.4"/>
<line x1="780.5" y1="1295.4" x2="793.5" y2="1295.4" stroke="#2f3585" stroke-width="2.4"/>
<line x1="787" y1="1287.9" x2="787" y2="1302.9" stroke="#2f3585" stroke-width="2.4"/>
<line x1="785.3" y1="1321.7" x2="798.3" y2="1321.7" stroke="#2f3585" stroke-width="2.4"/>
<line x1="791.8" y1="1314.2" x2="791.8" y2="1329.2" stroke="#2f3585" stroke-width="2.4"/>
<line x1="788.7" y1="1347.7" x2="801.7" y2="1347.7" stroke="#2f3585" stroke-width="2.4"/>
<line x1="795.2" y1="1340.2" x2="795.2" y2="1355.2" stroke="#2f3585" stroke-width="2.4"/>
<line x1="823.8" y1="1497.5" x2="836.8" y2="1497.5" stroke="#2f3585" stroke-width="2.4"/>
<line x1="830.3" y1="1490" x2="830.3" y2="1505" stroke="#2f3585" stroke-width="2.4"/>
<line x1="831.4" y1="1518.6" x2="844.4" y2="1518.6" stroke="#2f3585" stroke-width="2.4"/>
<line x1="837.9" y1="1511.1" x2="837.9" y2="1526.1" stroke="#2f3585" stroke-width="2.4"/>
<line x1="849.5" y1="1566" x2="862.5" y2="1566" stroke="#2f3585" stroke-width="2.4"/>
<line x1="856" y1="1558.5" x2="856" y2="1573.5" stroke="#2f3585" stroke-width="2.4"/>
<line x1="853.5" y1="1569" x2="866.5" y2="1569" stroke="#2f3585" stroke-width="2.4"/>
<line x1="860" y1="1561.5" x2="860" y2="1576.5" stroke="#2f3585" stroke-width="2.4"/>
<line x1="880.5" y1="1590" x2="893.5" y2="1590" stroke="#2f3585" stroke-width="2.4"/>
<line x1="887" y1="1582.5" x2="887" y2="1597.5" stroke="#2f3585" stroke-width="2.4"/>
<line x1="884.5" y1="1592.5" x2="897.5" y2="1592.5" stroke="#2f3585" stroke-width="2.4"/>
<line x1="891" y1="1585" x2="891" y2="1600" stroke="#2f3585" stroke-width="2.4"/>
<line x1="903.6" y1="1639.8" x2="916.6" y2="1639.8" stroke="#2f3585" stroke-width="2.4"/>
<line x1="910.1" y1="1632.3" x2="910.1" y2="1647.3" stroke="#2f3585" stroke-width="2.4"/>
<line x1="950.3" y1="1660.9" x2="963.3" y2="1660.9" stroke="#2f3585" stroke-width="2.4"/>
<line x1="956.8" y1="1653.4" x2="956.8" y2="1668.4" stroke="#2f3585" stroke-width="2.4"/>
<line x1="962.8" y1="1670.4" x2="975.8" y2="1670.4" stroke="#2f3585" stroke-width="2.4"/>
<line x1="969.3" y1="1662.9" x2="969.3" y2="1677.9" stroke="#2f3585" stroke-width="2.4"/>
<line x1="1015.3" y1="1694.5" x2="1028.3" y2="1694.5" stroke="#2f3585" stroke-width="2.4"/>
<line x1="1021.8" y1="1687" x2="1021.8" y2="1702" stroke="#2f3585" stroke-width="2.4"/>
<ellipse cx="1021.8" cy="1694.5" rx="3.3" ry="8" fill="#2f3585"/>
<line x1="1021.9" y1="1697.5" x2="1034.9" y2="1697.5" stroke="#2f3585" stroke-width="2.4"/>
<line x1="1028.4" y1="1690" x2="1028.4" y2="1705" stroke="#2f3585" stroke-width="2.4"/>
<line x1="1033.6" y1="1697.5" x2="1046.6" y2="1697.5" stroke="#2f3585" stroke-width="2.4"/>
<line x1="1040.1" y1="1690" x2="1040.1" y2="1705" stroke="#2f3585" stroke-width="2.4"/>
<line x1="1087.2" y1="1723.3" x2="1100.2" y2="1723.3" stroke="#2f3585" stroke-width="2.4"/>
<line x1="1093.7" y1="1715.8" x2="1093.7" y2="1730.8" stroke="#2f3585" stroke-width="2.4"/>
<line x1="1107.4" y1="1723.4" x2="1120.4" y2="1723.4" stroke="#2f3585" stroke-width="2.4"/>
<line x1="1113.9" y1="1715.9" x2="1113.9" y2="1730.9" stroke="#2f3585" stroke-width="2.4"/>
<ellipse cx="1113.9" cy="1723.4" rx="3.3" ry="8" fill="#2f3585"/>
<line x1="1127" y1="1730.2" x2="1140" y2="1730.2" stroke="#2f3585" stroke-width="2.4"/>
<line x1="1133.5" y1="1722.7" x2="1133.5" y2="1737.7" stroke="#2f3585" stroke-width="2.4"/>
<line x1="1134.3" y1="1730.2" x2="1147.3" y2="1730.2" stroke="#2f3585" stroke-width="2.4"/>
<line x1="1140.8" y1="1722.7" x2="1140.8" y2="1737.7" stroke="#2f3585" stroke-width="2.4"/>
<line x1="1140.1" y1="1730.2" x2="1153.1" y2="1730.2" stroke="#2f3585" stroke-width="2.4"/>
<line x1="1146.6" y1="1722.7" x2="1146.6" y2="1737.7" stroke="#2f3585" stroke-width="2.4"/>
<line x1="1146" y1="1738.2" x2="1159" y2="1738.2" stroke="#2f3585" stroke-width="2.4"/>
<line x1="1152.5" y1="1730.7" x2="1152.5" y2="1745.7" stroke="#2f3585" stroke-width="2.4"/>
<line x1="1291.5" y1="1777.2" x2="1304.5" y2="1777.2" stroke="#2f3585" stroke-width="2.4"/>
<line x1="1298" y1="1769.7" x2="1298" y2="1784.7" stroke="#2f3585" stroke-width="2.4"/>
<ellipse cx="1298" cy="1777.2" rx="3.3" ry="8" fill="#2f3585"/>
<line x1="1438.4" y1="1777.2" x2="1451.4" y2="1777.2" stroke="#2f3585" stroke-width="2.4"/>
<line x1="1444.9" y1="1769.7" x2="1444.9" y2="1784.7" stroke="#2f3585" stroke-width="2.4"/>
<path d="M754.7,1100.4 V1812.2 H1472.2" fill="none" stroke="#141210" stroke-width="2.8"/>
<line x1="754.7" y1="1101.8" x2="768" y2="1101.8" stroke="#141210" stroke-width="2.8"/>
<line x1="754.7" y1="1243.6" x2="768" y2="1243.6" stroke="#141210" stroke-width="2.8"/>
<line x1="754.7" y1="1386.5" x2="768" y2="1386.5" stroke="#141210" stroke-width="2.8"/>
<line x1="754.7" y1="1528.4" x2="768" y2="1528.4" stroke="#141210" stroke-width="2.8"/>
<line x1="754.7" y1="1670.3" x2="768" y2="1670.3" stroke="#141210" stroke-width="2.8"/>
<line x1="933.4" y1="1800.8" x2="933.4" y2="1812.2" stroke="#141210" stroke-width="2.8"/>
<line x1="1112.5" y1="1800.8" x2="1112.5" y2="1812.2" stroke="#141210" stroke-width="2.8"/>
<line x1="1291.6" y1="1800.8" x2="1291.6" y2="1812.2" stroke="#141210" stroke-width="2.8"/>
<line x1="1470.9" y1="1800.8" x2="1470.9" y2="1812.2" stroke="#141210" stroke-width="2.8"/>
<text fill="#141210"><tspan x="692.7 710.9 729.1" y="1116.4" font-family='"Liberation Serif","Noto Serif CJK SC",serif' font-size="35" stroke="#141210" stroke-width="0.35" text-anchor="middle">100</tspan></text>
<text fill="#141210"><tspan x="710.9 729.1" y="1258.1" font-family='"Liberation Serif","Noto Serif CJK SC",serif' font-size="35" stroke="#141210" stroke-width="0.35" text-anchor="middle">80</tspan></text>
<text fill="#141210"><tspan x="710.9 729.1" y="1401.2" font-family='"Liberation Serif","Noto Serif CJK SC",serif' font-size="35" stroke="#141210" stroke-width="0.35" text-anchor="middle">60</tspan></text>
<text fill="#141210"><tspan x="710.9 729.1" y="1542.3" font-family='"Liberation Serif","Noto Serif CJK SC",serif' font-size="35" stroke="#141210" stroke-width="0.35" text-anchor="middle">40</tspan></text>
<text fill="#141210"><tspan x="710.9 729.1" y="1684.2" font-family='"Liberation Serif","Noto Serif CJK SC",serif' font-size="35" stroke="#141210" stroke-width="0.35" text-anchor="middle">20</tspan></text>
<text fill="#141210"><tspan x="729.2" y="1857.8" font-family='"Liberation Serif","Noto Serif CJK SC",serif' font-size="35" stroke="#141210" stroke-width="0.35" text-anchor="middle">0</tspan></text>
<text fill="#141210"><tspan x="922.1 940.3" y="1857.8" font-family='"Liberation Serif","Noto Serif CJK SC",serif' font-size="35" stroke="#141210" stroke-width="0.35" text-anchor="middle">10</tspan></text>
<text fill="#141210"><tspan x="1099.1 1117.3" y="1857.8" font-family='"Liberation Serif","Noto Serif CJK SC",serif' font-size="35" stroke="#141210" stroke-width="0.35" text-anchor="middle">20</tspan></text>
<text fill="#141210"><tspan x="1278.2 1296.4" y="1857.8" font-family='"Liberation Serif","Noto Serif CJK SC",serif' font-size="35" stroke="#141210" stroke-width="0.35" text-anchor="middle">30</tspan></text>
<text fill="#141210"><tspan x="1460 1478.2" y="1857.8" font-family='"Liberation Serif","Noto Serif CJK SC",serif' font-size="35" stroke="#141210" stroke-width="0.35" text-anchor="middle">40</tspan></text>
<text fill="#141210"><tspan x="1003 1037.7 1072.4 1107.1 1141.8 1176.5" y="1905.5" font-family='"Liberation Serif","Noto Serif CJK SC",serif' font-size="34" text-anchor="middle" font-weight="400" stroke="#141210" stroke-width="0.6" stroke-linejoin="round">无进展生存期</tspan><tspan x="1202.9" y="1902.3" font-family='"Liberation Serif","Noto Serif CJK SC",serif' font-size="34" text-anchor="middle" stroke="#141210" stroke-width="0.35">(</tspan><tspan x="1229.4" y="1905.5" font-family='"Liberation Serif","Noto Serif CJK SC",serif' font-size="34" text-anchor="middle" font-weight="400" stroke="#141210" stroke-width="0.6" stroke-linejoin="round">月</tspan><tspan x="1255.8" y="1902.3" font-family='"Liberation Serif","Noto Serif CJK SC",serif' font-size="34" text-anchor="middle" stroke="#141210" stroke-width="0.35">)</tspan></text>
<g transform="translate(651.5,1459.5) rotate(-90)">
<text fill="#141210"><tspan x="-96.7 -62 -27.3 7.4 42.1" y="0" font-family='"Liberation Serif","Noto Serif CJK SC",serif' font-size="34" text-anchor="middle" font-weight="400" stroke="#141210" stroke-width="0.6" stroke-linejoin="round">累积生存率</tspan><tspan x="68.5" y="-3.2" font-family='"Liberation Serif","Noto Serif CJK SC",serif' font-size="34" text-anchor="middle" stroke="#141210" stroke-width="0.35">(</tspan><tspan x="79.1" y="0" font-family='"Liberation Serif","Noto Serif CJK SC",serif' font-size="35" stroke="#141210" stroke-width="0.35" text-anchor="start" textLength="15.2" lengthAdjust="spacingAndGlyphs">%</tspan><tspan x="104.9" y="-3.2" font-family='"Liberation Serif","Noto Serif CJK SC",serif' font-size="34" text-anchor="middle" stroke="#141210" stroke-width="0.35">)</tspan></text>
</g>
<path d="M1318,1100.2 H1339.5 V1363.2 H1318" fill="none" stroke="#141210" stroke-width="2.8"/>
<path d="M1318,1403.3 H1339.5 V1657.2 H1318" fill="none" stroke="#141210" stroke-width="2.8"/>
<path d="M1621.2,1100.2 H1642.7 V1775.7 H1621.2" fill="none" stroke="#141210" stroke-width="2.8"/>
<path d="M1460.3,1659.9 H1481.8 V1775.7 H1460.3" fill="none" stroke="#141210" stroke-width="2.8"/>
<text font-family='"Liberation Serif","Noto Serif CJK SC",serif' fill="#141210"><tspan x="1361.2" y="1258" font-size="36" font-style="italic" textLength="19" lengthAdjust="spacingAndGlyphs">P</tspan><tspan x="1390.4 1412.2 1425.1 1448.1 1466.3 1484.4" y="1258" font-size="35.5" text-anchor="middle" stroke="#141210" stroke-width="0.35">=0.475</tspan></text>
<text font-family='"Liberation Serif","Noto Serif CJK SC",serif' fill="#141210"><tspan x="1361.5" y="1549.2" font-size="36" font-style="italic" textLength="19" lengthAdjust="spacingAndGlyphs">P</tspan><tspan x="1390.7 1412.5 1425.4 1448.4 1466.6 1484.7" y="1549.2" font-size="35.5" text-anchor="middle" stroke="#141210" stroke-width="0.35">=0.148</tspan></text>
<text font-family='"Liberation Serif","Noto Serif CJK SC",serif' fill="#141210"><tspan x="1495.4" y="1732" font-size="36" font-style="italic" textLength="19" lengthAdjust="spacingAndGlyphs">P</tspan><tspan x="1524.6 1546.4 1559.3 1582.3 1600.5 1618.6" y="1732" font-size="35.5" text-anchor="middle" stroke="#141210" stroke-width="0.35">=0.016</tspan></text>
<text font-family='"Liberation Serif","Noto Serif CJK SC",serif' fill="#141210"><tspan x="1663.9" y="1434" font-size="36" font-style="italic" textLength="19" lengthAdjust="spacingAndGlyphs">P</tspan><tspan x="1693.1 1714.9 1727.8 1750.8 1769 1787.1" y="1434" font-size="35.5" text-anchor="middle" stroke="#141210" stroke-width="0.35">=0.019</tspan></text>
<line x1="1709.8" y1="1140" x2="1760.9" y2="1140" stroke="#4a5aa0" stroke-width="2.6"/>
<line x1="1734.2" y1="1127" x2="1734.2" y2="1153" stroke="#4a5aa0" stroke-width="2.6"/>
<text fill="#141210"><tspan x="1779.7" y="1152" font-family='"Liberation Serif","Noto Serif CJK SC",serif' font-size="35" stroke="#141210" stroke-width="0.35" text-anchor="start" textLength="88.6" lengthAdjust="spacingAndGlyphs">FBXW7</tspan><tspan x="1886.8 1921.5 1956.2 1991 2025.7 2060.3 2095.1 2129.8 2164.4 2199.2 2233.8" y="1152" font-family='"Liberation Serif","Noto Serif CJK SC",serif' font-size="34" text-anchor="middle" font-weight="400" stroke="#141210" stroke-width="0.6" stroke-linejoin="round">野生型，肿瘤突变负荷低</tspan></text>
<line x1="1709.8" y1="1183" x2="1760.9" y2="1183" stroke="#3aa564" stroke-width="5"/>
<line x1="1734.2" y1="1170" x2="1734.2" y2="1196" stroke="#3aa564" stroke-width="2.6"/>
<text fill="#141210"><tspan x="1779.7" y="1195" font-family='"Liberation Serif","Noto Serif CJK SC",serif' font-size="35" stroke="#141210" stroke-width="0.35" text-anchor="start" textLength="88.6" lengthAdjust="spacingAndGlyphs">FBXW7</tspan><tspan x="1886.8 1921.5 1956.2 1991 2025.7 2060.3 2095.1 2129.8 2164.4 2199.2 2233.8" y="1195" font-family='"Liberation Serif","Noto Serif CJK SC",serif' font-size="34" text-anchor="middle" font-weight="400" stroke="#141210" stroke-width="0.6" stroke-linejoin="round">野生型，肿瘤突变负荷高</tspan></text>
<line x1="1709.8" y1="1226.8" x2="1760.9" y2="1226.8" stroke="#d3cb9c" stroke-width="2.8"/>
<line x1="1734.2" y1="1213.8" x2="1734.2" y2="1239.8" stroke="#d3cb9c" stroke-width="2.6"/>
<text fill="#141210"><tspan x="1779.7" y="1238.8" font-family='"Liberation Serif","Noto Serif CJK SC",serif' font-size="35" stroke="#141210" stroke-width="0.35" text-anchor="start" textLength="88.6" lengthAdjust="spacingAndGlyphs">FBXW7</tspan><tspan x="1886.8 1921.5 1956.2 1991 2025.7 2060.3 2095.1 2129.8 2164.4 2199.2 2233.8" y="1238.8" font-family='"Liberation Serif","Noto Serif CJK SC",serif' font-size="34" text-anchor="middle" font-weight="400" stroke="#141210" stroke-width="0.6" stroke-linejoin="round">突变型，肿瘤突变负荷低</tspan></text>
<line x1="1709.8" y1="1270" x2="1760.9" y2="1270" stroke="#7f3f80" stroke-width="4.2"/>
<line x1="1734.2" y1="1257" x2="1734.2" y2="1283" stroke="#7f3f80" stroke-width="2.6"/>
<text fill="#141210"><tspan x="1779.7" y="1282" font-family='"Liberation Serif","Noto Serif CJK SC",serif' font-size="35" stroke="#141210" stroke-width="0.35" text-anchor="start" textLength="88.6" lengthAdjust="spacingAndGlyphs">FBXW7</tspan><tspan x="1886.8 1921.5 1956.2 1991 2025.7 2060.3 2095.1 2129.8 2164.4 2199.2 2233.8" y="1282" font-family='"Liberation Serif","Noto Serif CJK SC",serif' font-size="34" text-anchor="middle" font-weight="400" stroke="#141210" stroke-width="0.6" stroke-linejoin="round">突变型，肿瘤突变负荷高</tspan></text>
<circle cx="2241.6" cy="1919.9" r="25.6" fill="#231f1e"/>
<text x="2241.6" y="1935.9" font-family='"Liberation Sans",sans-serif' font-size="45" text-anchor="middle" fill="#fff" stroke="#fff" stroke-width="1.6" stroke-linejoin="round">F</text>
</svg></body></html>
